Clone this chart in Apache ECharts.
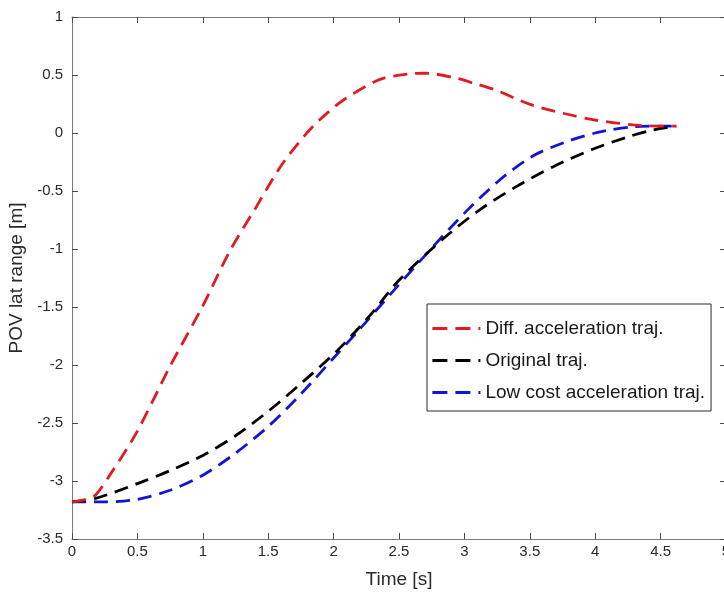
<!DOCTYPE html>
<html>
<head>
<meta charset="utf-8">
<script src="https://cdn.jsdelivr.net/npm/echarts@6/dist/echarts.min.js"></script>
<style>
html,body{margin:0;padding:0;background:#fff;}
#chart{width:724px;height:594px;}
</style>
</head>
<body>
<div id="chart"></div>
<script>
// ---- data ----
var seriesNames = ['Diff. acceleration traj.', 'Original traj.', 'Low cost acceleration traj.'];

var diffT = [0, 0.10, 0.18, 0.30, 0.49, 0.75, 1.0, 1.21, 1.41, 1.60, 1.78, 1.89, 2.07, 2.35, 2.58, 2.71, 2.91, 3.07, 3.24, 3.52, 3.96, 4.29, 4.47, 4.62];
var diffY = [-3.18, -3.16, -3.12, -2.93, -2.59, -2.01, -1.49, -1.01, -0.635, -0.28, -0.02, 0.11, 0.28, 0.46, 0.51, 0.515, 0.48, 0.43, 0.37, 0.24, 0.12, 0.07, 0.06, 0.06];

var origT = [0, 0.18, 0.53, 0.75, 1.0, 1.25, 1.51, 1.76, 2.02, 2.28, 2.5, 2.84, 3.12, 3.40, 3.68, 3.98, 4.26, 4.44, 4.62];
var origY = [-3.18, -3.15, -3.01, -2.91, -2.78, -2.61, -2.39, -2.15, -1.885, -1.57, -1.27, -0.91, -0.66, -0.46, -0.29, -0.14, -0.03, 0.026, 0.06];

var lowT = [0, 0.25, 0.49, 0.75, 1.0, 1.25, 1.51, 1.75, 2.0, 2.2, 2.45, 2.76, 3.01, 3.27, 3.52, 3.78, 4.0, 4.11, 4.29, 4.47, 4.62];
var lowY = [-3.18, -3.18, -3.16, -3.08, -2.95, -2.76, -2.52, -2.25, -1.94, -1.69, -1.37, -0.98, -0.68, -0.405, -0.20, -0.075, 0.0, 0.026, 0.054, 0.06, 0.06];

var xTicks = {min: 0, max: 5, step: 0.5};
var yTicks = {min: -3.5, max: 1, step: 0.5};
var colors = ['#e01b22', '#000000', '#1414d2'];

function pairs(t, y) { return t.map(function (v, i) { return [v, y[i]]; }); }

var chart = echarts.init(document.getElementById('chart'), null, {renderer: 'canvas'});
var font = '"Liberation Sans", Arial, Helvetica, sans-serif';
var axisLineColor = '#7a7a7a';
var tickColor = '#4a4a4a';

function xAx(pos, showLabel) {
  return {
    type: 'value', position: pos, min: xTicks.min, max: xTicks.max, interval: xTicks.step,
    axisLine: {show: true, onZero: false, lineStyle: {color: axisLineColor, width: 1}},
    axisTick: {show: true, inside: true, length: 6, lineStyle: {color: tickColor}},
    splitLine: {show: false},
    axisLabel: {show: showLabel, fontSize: 15, color: '#2a2a2a', fontFamily: font, margin: 5},
    name: showLabel ? 'Time [s]' : '', nameLocation: 'middle', nameGap: 31,
    nameTextStyle: {fontSize: 19, color: '#2a2a2a', fontFamily: font}
  };
}
function yAx(pos, showLabel) {
  return {
    type: 'value', position: pos, min: yTicks.min, max: yTicks.max, interval: yTicks.step,
    axisLine: {show: true, onZero: false, lineStyle: {color: axisLineColor, width: 1}},
    axisTick: {show: true, inside: true, length: 6, lineStyle: {color: tickColor}},
    splitLine: {show: false},
    axisLabel: {show: showLabel, fontSize: 15, color: '#2a2a2a', fontFamily: font, margin: 9},
    name: showLabel ? 'POV lat range [m]' : '', nameLocation: 'middle', nameGap: 40, nameRotate: 90,
    nameTextStyle: {fontSize: 19, color: '#2a2a2a', fontFamily: font}
  };
}

var dash = [14, 8];
var series = [
  pairs(diffT, diffY), pairs(origT, origY), pairs(lowT, lowY)
].map(function (d, i) {
  return {
    name: seriesNames[i], type: 'line', data: d, smooth: 0.3, symbol: 'none',
    lineStyle: {color: colors[i], width: 2.8, type: dash},
    itemStyle: {color: colors[i]},
    z: 3 - i
  };
});

chart.setOption({
  animation: false,
  backgroundColor: '#ffffff',
  grid: {left: 72, top: 17, width: 654, height: 522, outerBoundsMode: 'none', containLabel: false},
  xAxis: [xAx('bottom', true), xAx('top', false)],
  yAxis: [yAx('left', true), yAx('right', false)],
  legend: {
    orient: 'vertical', left: 427, top: 304,
    padding: [15, 6, 9, 4], itemGap: 13,
    itemWidth: 48, itemHeight: 14,
    backgroundColor: '#ffffff', borderColor: '#2a2a2a', borderWidth: 1, borderRadius: 0,
    textStyle: {fontSize: 19, color: '#1a1a1a', fontFamily: font},
    data: seriesNames.map(function (n) {
      return {name: n, itemStyle: {opacity: 0}, lineStyle: {type: [15, 8], width: 2.8}};
    })
  },
  series: series
});
</script>
</body>
</html>
